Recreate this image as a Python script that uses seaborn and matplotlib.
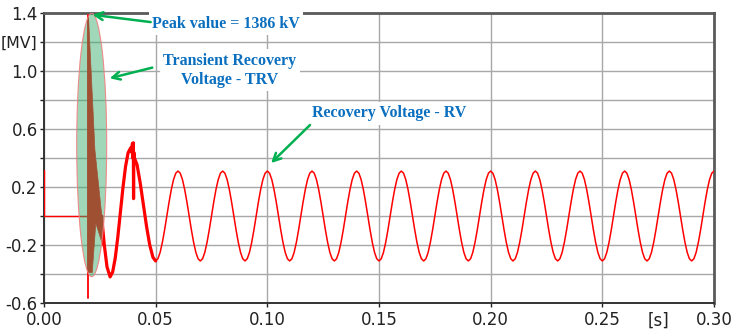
import numpy as np
import pandas as pd
import matplotlib
matplotlib.use("Agg")
import matplotlib.pyplot as plt
from matplotlib.patches import Ellipse
import seaborn as sns

# ---------------- data ----------------
# pre-fault part [s], [MV]
pre_t = [0.0, 0.0, 0.0199]
pre_v = [0.32, 0.0, 0.0]

# breaking instant spike
spike_t = [0.0199, 0.0199]
spike_v = [-0.565, 1.386]

# dense high-frequency TRV oscillation (outline)
dense_t = [0.0197, 0.0199, 0.0228, 0.0259, 0.0270, 0.0265, 0.0232, 0.0216, 0.0197]
dense_v = [1.386, 1.386, 0.455, 0.0, -0.17, -0.21, -0.05, -0.39, -0.39]

# transient (thick) part
trv_t = [0.0258, 0.0270, 0.0282, 0.0296, 0.03075, 0.0319, 0.03305, 0.0342,
         0.03535, 0.0365, 0.03765, 0.0388, 0.0392, 0.0396, 0.0398, 0.0400,
         0.0401, 0.0402, 0.0405, 0.04165, 0.04308, 0.0445, 0.04593, 0.04735,
         0.04878, 0.0500]
trv_v = [0.0, -0.20, -0.35, -0.42, -0.386, -0.290, -0.145, 0.025,
         0.195, 0.340, 0.436, 0.47, 0.44, 0.50, 0.40, 0.505,
         0.12, 0.44, 0.40, 0.355, 0.228, 0.0775, -0.073, -0.200,
         -0.285, -0.31]

# recovery voltage, sampled every 1 ms from 0.050 s to 0.300 s
rv_t = np.round(np.arange(0.050, 0.3001, 0.001), 3)
rv_v = [
    -0.31, -0.295, -0.251, -0.182, -0.096, 0.0, 0.096, 0.182, 0.251, 0.295,
    0.31, 0.295, 0.251, 0.182, 0.096, 0.0, -0.096, -0.182, -0.251, -0.295,
    -0.31, -0.295, -0.251, -0.182, -0.096, 0.0, 0.096, 0.182, 0.251, 0.295,
    0.31, 0.295, 0.251, 0.182, 0.096, 0.0, -0.096, -0.182, -0.251, -0.295,
    -0.31, -0.295, -0.251, -0.182, -0.096, 0.0, 0.096, 0.182, 0.251, 0.295,
    0.31, 0.295, 0.251, 0.182, 0.096, 0.0, -0.096, -0.182, -0.251, -0.295,
    -0.31, -0.295, -0.251, -0.182, -0.096, 0.0, 0.096, 0.182, 0.251, 0.295,
    0.31, 0.295, 0.251, 0.182, 0.096, 0.0, -0.096, -0.182, -0.251, -0.295,
    -0.31, -0.295, -0.251, -0.182, -0.096, 0.0, 0.096, 0.182, 0.251, 0.295,
    0.31, 0.295, 0.251, 0.182, 0.096, 0.0, -0.096, -0.182, -0.251, -0.295,
    -0.31, -0.295, -0.251, -0.182, -0.096, 0.0, 0.096, 0.182, 0.251, 0.295,
    0.31, 0.295, 0.251, 0.182, 0.096, 0.0, -0.096, -0.182, -0.251, -0.295,
    -0.31, -0.295, -0.251, -0.182, -0.096, 0.0, 0.096, 0.182, 0.251, 0.295,
    0.31, 0.295, 0.251, 0.182, 0.096, 0.0, -0.096, -0.182, -0.251, -0.295,
    -0.31, -0.295, -0.251, -0.182, -0.096, 0.0, 0.096, 0.182, 0.251, 0.295,
    0.31, 0.295, 0.251, 0.182, 0.096, 0.0, -0.096, -0.182, -0.251, -0.295,
    -0.31, -0.295, -0.251, -0.182, -0.096, 0.0, 0.096, 0.182, 0.251, 0.295,
    0.31, 0.295, 0.251, 0.182, 0.096, 0.0, -0.096, -0.182, -0.251, -0.295,
    -0.31, -0.295, -0.251, -0.182, -0.096, 0.0, 0.096, 0.182, 0.251, 0.295,
    0.31, 0.295, 0.251, 0.182, 0.096, 0.0, -0.096, -0.182, -0.251, -0.295,
    -0.31, -0.295, -0.251, -0.182, -0.096, 0.0, 0.096, 0.182, 0.251, 0.295,
    0.31, 0.295, 0.251, 0.182, 0.096, 0.0, -0.096, -0.182, -0.251, -0.295,
    -0.31, -0.295, -0.251, -0.182, -0.096, 0.0, 0.096, 0.182, 0.251, 0.295,
    0.31, 0.295, 0.251, 0.182, 0.096, 0.0, -0.096, -0.182, -0.251, -0.295,
    -0.31, -0.295, -0.251, -0.182, -0.096, 0.0, 0.096, 0.182, 0.251, 0.295,
    0.31,
]

x_ticks = [0.00, 0.05, 0.10, 0.15, 0.20, 0.25, 0.30]
x_labels = ["0.00", "0.05", "0.10", "0.15", "0.20", "0.25", "0.30"]
x_unit_pos = [0.275]
x_unit_label = ["[s]"]
y_ticks = [-0.6, -0.4, -0.2, 0.0, 0.2, 0.4, 0.6, 0.8, 1.0, 1.2, 1.4]
y_labels = ["-0.6", "", "-0.2", "", "0.2", "", "0.6", "", "1.0", "[MV]", "1.4"]

# ---------------- plotting ----------------
sns.set_theme(style="white")
plt.rcParams['font.family'] = ['DejaVu Sans']

fig = plt.figure(figsize=(7.32, 3.31), dpi=100)
ax = fig.add_axes([44 / 732, 1 - 303 / 331, 670 / 732, 290 / 331])

RED = "#ff0000"
sns.lineplot(x=pre_t, y=pre_v, ax=ax, color=RED, lw=1.0, sort=False, estimator=None, zorder=3)
sns.lineplot(x=rv_t, y=rv_v, ax=ax, color=RED, lw=1.1, sort=False, estimator=None, zorder=3)
sns.lineplot(x=trv_t, y=trv_v, ax=ax, color=RED, lw=2.3, sort=False, estimator=None, zorder=3)
sns.lineplot(x=spike_t, y=spike_v, ax=ax, color=RED, lw=1.3, sort=False, estimator=None, zorder=3)
ax.fill(dense_t, dense_v, color=RED, lw=0.5, zorder=3)

ell = Ellipse((0.02136, 0.49), width=0.01343, height=1.817,
              facecolor=(0.21, 0.67, 0.42, 0.47), edgecolor=(0.95, 0.5, 0.5, 0.9),
              lw=0.8, zorder=4)
ax.add_patch(ell)

ax.set_xlim(0, 0.30)
ax.set_ylim(-0.6, 1.4)
ax.set_xticks(x_ticks)
ax.set_xticklabels(x_labels)
ax.set_xticks(x_unit_pos, labels=x_unit_label, minor=True)
ax.set_yticks(y_ticks)
ax.set_yticklabels(y_labels)
ax.tick_params(axis="both", which="both", labelsize=12, colors="#222222", length=3,
               width=1.0, direction="out")
ax.tick_params(axis="x", which="both", bottom=True, pad=3)
ax.tick_params(axis="x", which="minor", length=0, pad=6)
ax.tick_params(axis="y", left=True, pad=1.5)
for lab in ax.get_yticklabels():
    if lab.get_text() == "[MV]":
        lab.set_fontsize(11.3)
ax.grid(True, which="major", color="#a8a8a8", lw=1.0)
ax.set_axisbelow(True)
ax.set_xlabel("")
ax.set_ylabel("")

for side in ["left", "bottom"]:
    ax.spines[side].set_color("#333333")
    ax.spines[side].set_linewidth(1.4)
for side in ["top", "right"]:
    ax.spines[side].set_color("#5a5a5a")
    ax.spines[side].set_linewidth(2.0)

BLUE = "#0a6fbf"
GREEN = "#00b050"
tfont = dict(family=["Liberation Serif", "DejaVu Serif"], weight="bold", size=11.5, color=BLUE)
box = dict(facecolor="white", edgecolor="none", pad=2.5)

ax.text(0.0815, 1.325, "Peak value = 1386 kV", ha="center", va="center",
        bbox=box, zorder=10, clip_on=False, **tfont)
ax.text(0.0833, 1.005, "Transient Recovery\nVoltage - TRV", ha="center", va="center",
        linespacing=1.25, bbox=box, zorder=10, clip_on=False, **tfont)
ax.text(0.1545, 0.71, "Recovery Voltage - RV", ha="center", va="center",
        bbox=box, zorder=10, clip_on=False, **tfont)

arrow = dict(arrowstyle="->", color=GREEN, lw=1.8, mutation_scale=14)
ax.annotate("", xy=(0.0205, 1.39), xytext=(0.0490, 1.335), arrowprops=arrow, zorder=11,
            annotation_clip=False)
ax.annotate("", xy=(0.0282, 0.945), xytext=(0.0497, 1.028), arrowprops=arrow, zorder=11)
ax.annotate("", xy=(0.1008, 0.352), xytext=(0.1200, 0.641), arrowprops=arrow, zorder=11)

fig.savefig("out.png", dpi=100, facecolor="white")
